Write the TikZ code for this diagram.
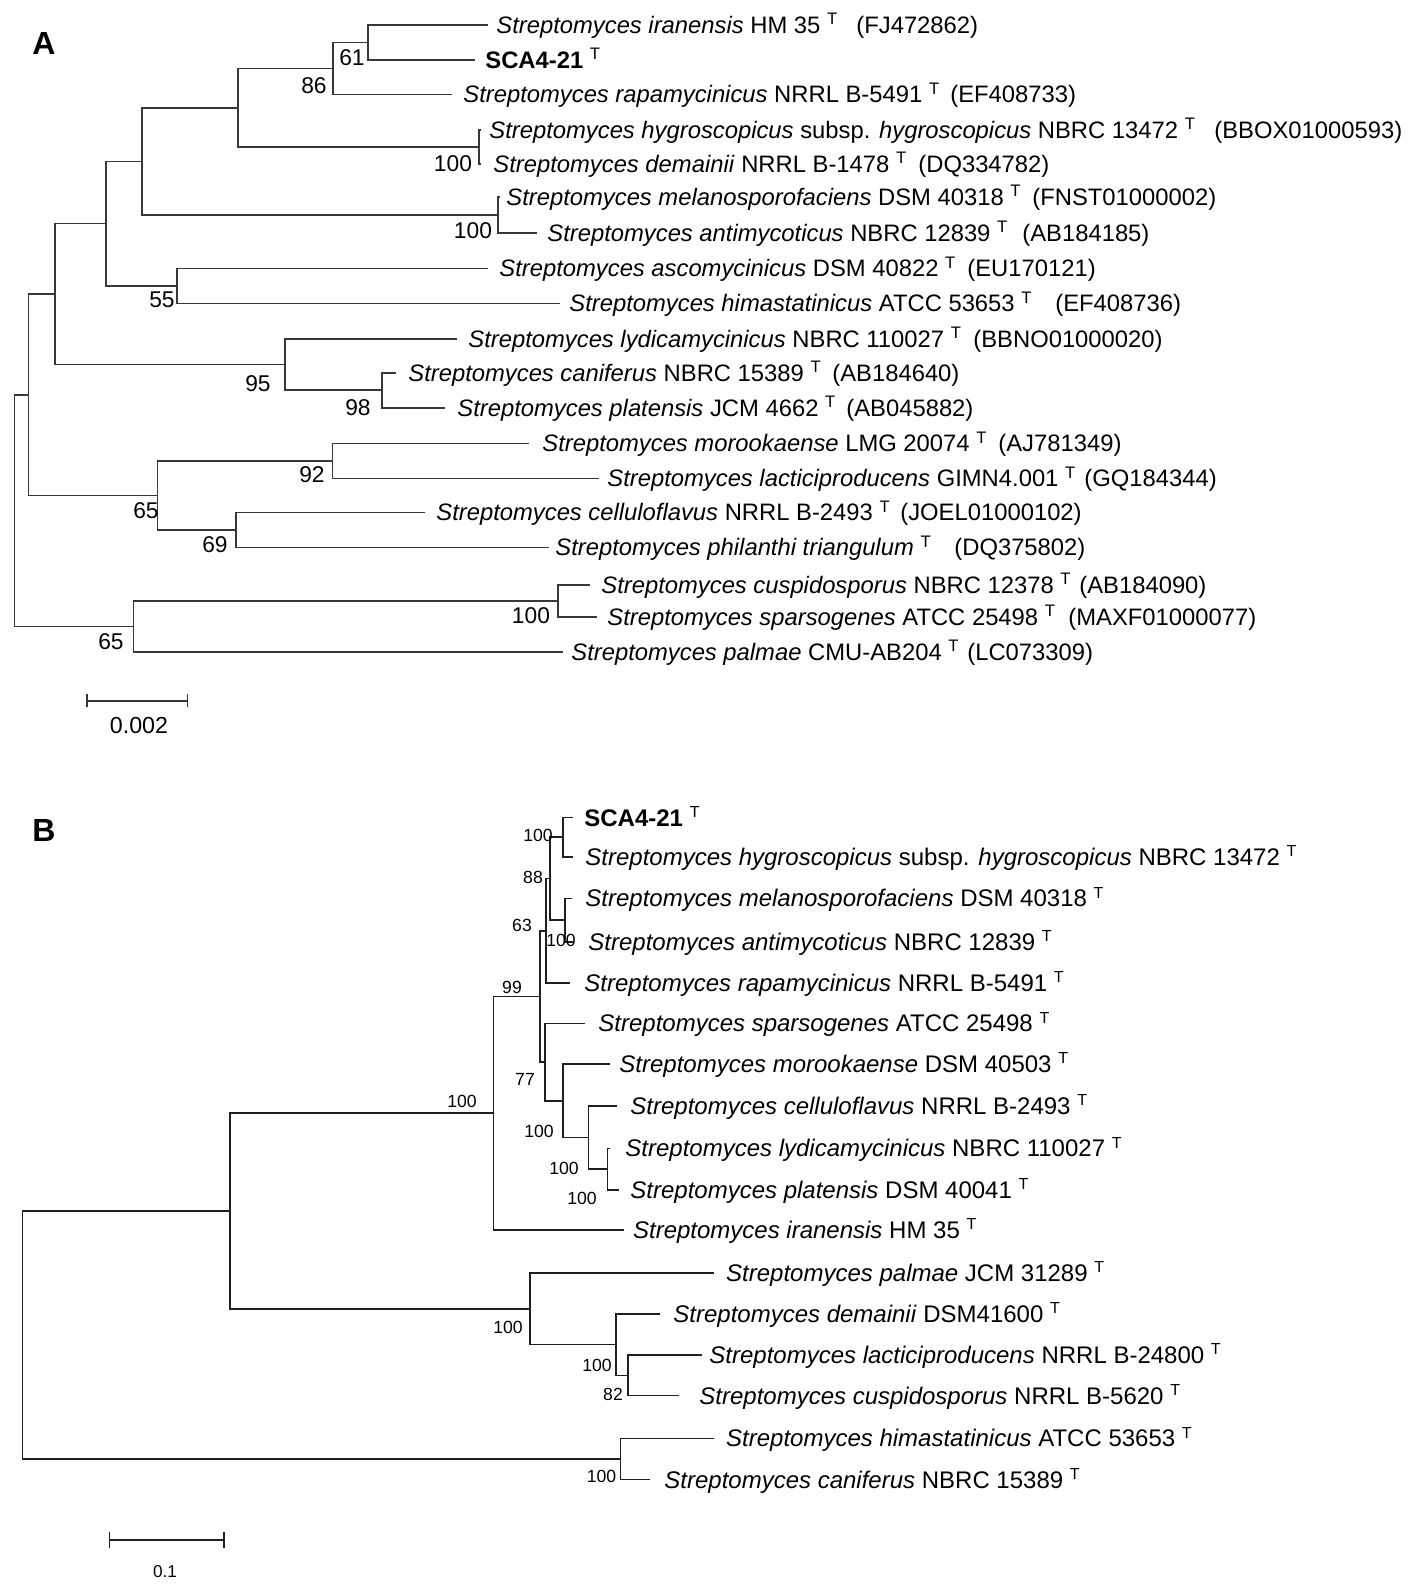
\documentclass[tikz,border=0pt]{standalone}
\usepackage{fontspec}
\setmainfont{Liberation Sans}
\newcommand{\Sp}[1]{\textit{Streptomyces #1}}
\newcommand{\Ty}{\textsuperscript{T}}
\begin{document}
\begin{tikzpicture}[x=0.5pt,y=-0.5pt,
  brA/.style={draw=black!78,line width=0.8pt},
  brB/.style={draw=black!88,line width=0.8pt},
  taxA/.style={anchor=base west,inner sep=0pt,font=\fontsize{11.9}{14}\selectfont},
  taxB/.style={anchor=base west,inner sep=0pt,font=\fontsize{12}{14}\selectfont},
  bsA/.style={inner sep=0pt,font=\fontsize{11.4}{13}\selectfont},
  bsB/.style={inner sep=0pt,font=\fontsize{8.8}{10}\selectfont},
  panel/.style={inner sep=0pt,font=\fontsize{16}{18}\selectfont\bfseries}]
\useasboundingbox (0,0) rectangle (1418,1592);
\fill[white] (0,0) rectangle (1418,1592);

% ---------------- Tree A ----------------
\node[panel] (pA) at (44,43.5) {A};
% leaf tips
\coordinate (a1) at (488,25);
\coordinate (a2) at (475,60);
\coordinate (a3) at (452,94.3);
\coordinate (a4) at (481,130);
\coordinate (a5) at (481,164);
\coordinate (a6) at (500,197);
\coordinate (a7) at (537,233);
\coordinate (a8) at (488,268.3);
\coordinate (a9) at (560,303.3);
\coordinate (a10) at (457,339);
\coordinate (a11) at (396,372.7);
\coordinate (a12) at (445,407.7);
\coordinate (a13) at (529,443.3);
\coordinate (a14) at (599,478.3);
\coordinate (a15) at (425,512.3);
\coordinate (a16) at (549,547.3);
\coordinate (a17) at (590,585);
\coordinate (a18) at (597,617);
\coordinate (a19) at (563,651.7);
% internal nodes
\coordinate (nA61) at (368,42.5);
\coordinate (nA86) at (333,68.4);
\coordinate (nAhd) at (479,147);
\coordinate (nAi1) at (237.7,107.7);
\coordinate (nAma) at (498,215);
\coordinate (nAi2) at (141.7,161.4);
\coordinate (nA55) at (176.7,285.8);
\coordinate (nAi3) at (106,223.6);
\coordinate (nA98) at (381.7,390.2);
\coordinate (nA95) at (285,364.6);
\coordinate (nAi4) at (55,294.1);
\coordinate (nA92) at (332.3,460.8);
\coordinate (nA69) at (236,529.8);
\coordinate (nA65a) at (157.3,495.3);
\coordinate (nAi5) at (28.3,394.7);
\coordinate (nA100c) at (558,601);
\coordinate (nA65b) at (133.3,626.4);
\coordinate (nArt) at (14.3,510.5);
% branches
\draw[brA] (a1) -| (nA61) |- (a2);
\draw[brA] (nA61) -| (nA86) |- (a3);
\draw[brA] (a4) -| (nAhd) |- (a5);
\draw[brA] (nA86) -| (nAi1) |- (nAhd);
\draw[brA] (a6) -| (nAma) |- (a7);
\draw[brA] (nAi1) -| (nAi2) |- (nAma);
\draw[brA] (a8) -| (nA55) |- (a9);
\draw[brA] (nAi2) -| (nAi3) |- (nA55);
\draw[brA] (a11) -| (nA98) |- (a12);
\draw[brA] (a10) -| (nA95) |- (nA98);
\draw[brA] (nAi3) -| (nAi4) |- (nA95);
\draw[brA] (a13) -| (nA92) |- (a14);
\draw[brA] (a15) -| (nA69) |- (a16);
\draw[brA] (nA92) -| (nA65a) |- (nA69);
\draw[brA] (nAi4) -| (nAi5) |- (nA65a);
\draw[brA] (a17) -| (nA100c) |- (a18);
\draw[brA] (nA100c) -| (nA65b) |- (a19);
\draw[brA] (nAi5) -| (nArt) |- (nA65b);
% bootstrap values
\node[bsA] (sA1) at (352,58) {61};
\node[bsA] (sA2) at (314,86) {86};
\node[bsA] (sA3) at (453,164) {100};
\node[bsA] (sA4) at (473,231) {100};
\node[bsA] (sA5) at (162,300) {55};
\node[bsA] (sA6) at (258,384) {95};
\node[bsA] (sA7) at (358,408) {98};
\node[bsA] (sA8) at (312,475) {92};
\node[bsA] (sA9) at (146,511) {65};
\node[bsA] (sA10) at (215,545) {69};
\node[bsA] (sA11) at (531,616) {100};
\node[bsA] (sA12) at (111,642) {65};
% taxa
\node[taxA] (t1) at (496,33.5) {\Sp{iranensis} HM 35 \Ty};
\node[taxA] (c1) at (856,33.5) {(FJ472862)};
\node[taxA] (t2) at (485,68.5) {\textbf{SCA4-21} \Ty};
\node[taxA] (t3) at (463,102.8) {\Sp{rapamycinicus} NRRL B-5491 \Ty};
\node[taxA] (c3) at (950,102.8) {(EF408733)};
\node[taxA] (t4) at (489,138.5) {\textit{Streptomyces hygroscopicus} subsp. \textit{hygroscopicus} NBRC 13472 \Ty};
\node[taxA] (c4) at (1214,138.5) {(BBOX01000593)};
\node[taxA] (t5) at (493,172.5) {\Sp{demainii} NRRL B-1478 \Ty};
\node[taxA] (c5) at (918,172.5) {(DQ334782)};
\node[taxA] (t6) at (506,205.5) {\Sp{melanosporofaciens} DSM 40318 \Ty};
\node[taxA] (c6) at (1032,205.5) {(FNST01000002)};
\node[taxA] (t7) at (547,241.5) {\Sp{antimycoticus} NBRC 12839 \Ty};
\node[taxA] (c7) at (1022,241.5) {(AB184185)};
\node[taxA] (t8) at (499,276.8) {\Sp{ascomycinicus} DSM 40822 \Ty};
\node[taxA] (c8) at (967,276.8) {(EU170121)};
\node[taxA] (t9) at (569,311.8) {\Sp{himastatinicus} ATCC 53653 \Ty};
\node[taxA] (c9) at (1055,311.8) {(EF408736)};
\node[taxA] (t10) at (468,347.5) {\Sp{lydicamycinicus} NBRC 110027 \Ty};
\node[taxA] (c10) at (973,347.5) {(BBNO01000020)};
\node[taxA] (t11) at (408,381.2) {\Sp{caniferus} NBRC 15389 \Ty};
\node[taxA] (c11) at (832,381.2) {(AB184640)};
\node[taxA] (t12) at (457,416.2) {\Sp{platensis} JCM 4662 \Ty};
\node[taxA] (c12) at (846,416.2) {(AB045882)};
\node[taxA] (t13) at (542,451.8) {\Sp{morookaense} LMG 20074 \Ty};
\node[taxA] (c13) at (998,451.8) {(AJ781349)};
\node[taxA] (t14) at (607,486.8) {\Sp{lacticiproducens} GIMN4.001 \Ty};
\node[taxA] (c14) at (1084,486.8) {(GQ184344)};
\node[taxA] (t15) at (436,520.8) {\Sp{celluloflavus} NRRL B-2493 \Ty};
\node[taxA] (c15) at (900,520.8) {(JOEL01000102)};
\node[taxA] (t16) at (555,555.8) {\Sp{philanthi triangulum} \Ty};
\node[taxA] (c16) at (954,555.8) {(DQ375802)};
\node[taxA] (t17) at (601,593.5) {\Sp{cuspidosporus} NBRC 12378 \Ty};
\node[taxA] (c17) at (1079,593.5) {(AB184090)};
\node[taxA] (t18) at (607,625.5) {\Sp{sparsogenes} ATCC 25498 \Ty};
\node[taxA] (c18) at (1068,625.5) {(MAXF01000077)};
\node[taxA] (t19) at (571,660.2) {\Sp{palmae} CMU-AB204 \Ty};
\node[taxA] (c19) at (967,660.2) {(LC073309)};
% scale bar A
\coordinate (sa1) at (87,700.7);
\coordinate (sa2) at (187.3,700.7);
\draw[brA] (sa1) -- (sa2);
\draw[brA] ([yshift=-3.2pt]sa1) -- ([yshift=3.2pt]sa1);
\draw[brA] ([yshift=-3.2pt]sa2) -- ([yshift=3.2pt]sa2);
\node[inner sep=0pt,font=\fontsize{11.6}{13}\selectfont] (sla) at (139,725) {0.002};

% ---------------- Tree B ----------------
\node[panel] (pB) at (44,830) {B};
\coordinate (b1) at (572.7,817.5);
\coordinate (b2) at (573.3,856.7);
\coordinate (b3) at (571.7,898.3);
\coordinate (b4) at (573,942);
\coordinate (b5) at (570,982.7);
\coordinate (b6) at (585,1023.3);
\coordinate (b7) at (610,1064);
\coordinate (b8) at (617.3,1106);
\coordinate (b9) at (610,1148.3);
\coordinate (b10) at (619.3,1190);
\coordinate (b11) at (624,1230);
\coordinate (b12) at (713.7,1273);
\coordinate (b13) at (660,1314);
\coordinate (b14) at (701.6,1355);
\coordinate (b15) at (679,1395.5);
\coordinate (b16) at (713.7,1438.3);
\coordinate (b17) at (650,1479.5);
\coordinate (nBsh) at (562.7,837.1);
\coordinate (nBma) at (565,920.2);
\coordinate (nB88) at (550,878.6);
\coordinate (nB63) at (546,930.7);
\coordinate (nBlp) at (607.3,1169.2);
\coordinate (nBc) at (588.3,1137.6);
\coordinate (nBm) at (562.7,1100.8);
\coordinate (nB77) at (545,1062);
\coordinate (nB99) at (540,996.3);
\coordinate (nBi) at (493.3,1113.2);
\coordinate (nBcl) at (628,1375.3);
\coordinate (nBd) at (616,1344.6);
\coordinate (nBp) at (530,1308.8);
\coordinate (nBA) at (230,1211);
\coordinate (nBhc) at (620.5,1458.9);
\coordinate (nBrt) at (22.3,1335);
\draw[brB] (b1) -| (nBsh) |- (b2);
\draw[brB] (b3) -| (nBma) |- (b4);
\draw[brB] (nBsh) -| (nB88) |- (nBma);
\draw[brB] (nB88) -| (nB63) |- (b5);
\draw[brB] (b9) -| (nBlp) |- (b10);
\draw[brB] (b8) -| (nBc) |- (nBlp);
\draw[brB] (b7) -| (nBm) |- (nBc);
\draw[brB] (b6) -| (nB77) |- (nBm);
\draw[brB] (nB63) -| (nB99) |- (nB77);
\draw[brB] (nB99) -| (nBi) |- (b11);
\draw[brB] (b14) -| (nBcl) |- (b15);
\draw[brB] (b13) -| (nBd) |- (nBcl);
\draw[brB] (b12) -| (nBp) |- (nBd);
\draw[brB] (nBi) -| (nBA) |- (nBp);
\draw[brB] (b16) -| (nBhc) |- (b17);
\draw[brB] (nBA) -| (nBrt) |- (nBhc);
% bootstrap values
\node[bsB] (sB1) at (538,835) {100};
\node[bsB] (sB2) at (533,877) {88};
\node[bsB] (sB3) at (522,925) {63};
\node[bsB] (sB4) at (561,940) {100};
\node[bsB] (sB5) at (512,987) {99};
\node[bsB] (sB6) at (525,1079) {77};
\node[bsB] (sB7) at (462,1101) {100};
\node[bsB] (sB8) at (539,1131) {100};
\node[bsB] (sB9) at (564,1168) {100};
\node[bsB] (sB10) at (582,1198) {100};
\node[bsB] (sB11) at (508,1327) {100};
\node[bsB] (sB12) at (597,1365) {100};
\node[bsB] (sB13) at (613,1394) {82};
\node[bsB] (sB14) at (601.5,1476) {100};
% taxa
\node[taxB] (u1) at (584,826.5) {\textbf{SCA4-21} \Ty};
\node[taxB] (u2) at (585,865.2) {\textit{Streptomyces hygroscopicus} subsp. \textit{hygroscopicus} NBRC 13472 \Ty};
\node[taxB] (u3) at (585,906.8) {\Sp{melanosporofaciens} DSM 40318 \Ty};
\node[taxB] (u4) at (588,950.5) {\Sp{antimycoticus} NBRC 12839 \Ty};
\node[taxB] (u5) at (584,991.2) {\Sp{rapamycinicus} NRRL B-5491 \Ty};
\node[taxB] (u6) at (598,1031.8) {\Sp{sparsogenes} ATCC 25498 \Ty};
\node[taxB] (u7) at (619,1072.5) {\Sp{morookaense} DSM 40503 \Ty};
\node[taxB] (u8) at (630,1114.5) {\Sp{celluloflavus} NRRL B-2493 \Ty};
\node[taxB] (u9) at (625,1156.8) {\Sp{lydicamycinicus} NBRC 110027 \Ty};
\node[taxB] (u10) at (630,1198.5) {\Sp{platensis} DSM 40041 \Ty};
\node[taxB] (u11) at (632.7,1238.5) {\Sp{iranensis} HM 35 \Ty};
\node[taxB] (u12) at (725.8,1281.5) {\Sp{palmae} JCM 31289 \Ty};
\node[taxB] (u13) at (673,1322.5) {\Sp{demainii} DSM41600 \Ty};
\node[taxB] (u14) at (709,1363.5) {\Sp{lacticiproducens} NRRL B-24800 \Ty};
\node[taxB] (u15) at (699,1404) {\Sp{cuspidosporus} NRRL B-5620 \Ty};
\node[taxB] (u16) at (725.8,1446.8) {\Sp{himastatinicus} ATCC 53653 \Ty};
\node[taxB] (u17) at (664,1488) {\Sp{caniferus} NBRC 15389 \Ty};
% scale bar B
\coordinate (sb1) at (109.3,1540);
\coordinate (sb2) at (224,1540);
\draw[brB] (sb1) -- (sb2);
\draw[brB] ([yshift=-4pt]sb1) -- ([yshift=4pt]sb1);
\draw[brB] ([yshift=-4pt]sb2) -- ([yshift=4pt]sb2);
\node[inner sep=0pt,font=\fontsize{8.6}{10}\selectfont] (slb) at (165,1571.5) {0.1};
\end{tikzpicture}
\end{document}
